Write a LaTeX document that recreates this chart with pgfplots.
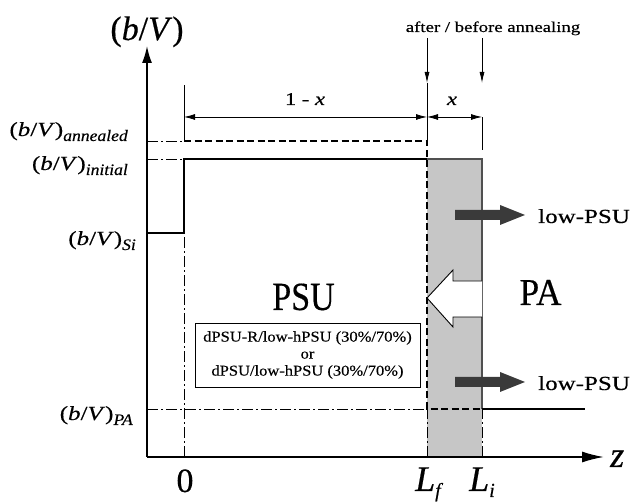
\documentclass[border=0pt]{standalone}
\usepackage{graphicx}
\usepackage{pgfplots}
\pgfplotsset{compat=1.18}
\usepackage{fontspec}
\setmainfont{Liberation Serif}[FakeBold=0.4]
\newfontfamily\wide{Liberation Serif}[FakeStretch=1.25, FakeBold=0.4]
\newfontfamily\wider{Liberation Serif}[FakeStretch=1.1, FakeBold=0.4]
\usetikzlibrary{arrows.meta}
\definecolor{shade}{HTML}{C6C6C6}
\definecolor{edge}{HTML}{505050}
\definecolor{flux}{HTML}{3A3A3A}
\newcommand{\fs}[1]{\fontsize{#1}{#1}\selectfont}
% (b/V) with an italic subscript
\newcommand{\bVsub}[1]{{\wide\fs{20}(\textit{b}/\textit{V})}\raisebox{-5pt}{\wider\fs{16}\textit{#1}}}
\begin{document}
\begin{tikzpicture}
\begin{axis}[
  width=631pt, height=502pt, scale only axis,
  xmin=0, xmax=631, ymin=0, ymax=502,
  hide axis, clip=false,
]
% shaded interface layer between L_f and L_i
\addplot[fill=shade, draw=none] coordinates {(427,45) (482,45) (482,343) (427,343)} -- cycle;
\addplot[edge, line width=2pt] coordinates {(427,343) (482,343) (482,93)};

% guide lines (dash-dot)
\pgfplotsset{guide/.style={black, line width=0.8pt, dash pattern=on 11pt off 3pt on 2pt off 3pt}}
\addplot[guide] coordinates {(147,361) (184,361)};
\addplot[guide] coordinates {(147,343) (184,343)};
\addplot[guide] coordinates {(147,93) (427,93)};
\addplot[guide] coordinates {(184,45) (184,269)};
\addplot[guide] coordinates {(427,45) (427,93)};
\addplot[guide] coordinates {(482,45) (482,93)};
\addplot[black, line width=0.8pt] coordinates {(184,361) (184,417)};
\addplot[black, line width=0.8pt] coordinates {(427,361) (427,419)};
\addplot[black, line width=0.8pt] coordinates {(482,352) (482,385)};

% initial profile (solid) and annealed profile (dashed)
\addplot[black, line width=2.6pt] coordinates {(147,269) (184,269) (184,343) (427,343)};
\addplot[black, line width=2.6pt] coordinates {(482,93) (585,93)};
\addplot[black, line width=2.6pt, dash pattern=on 7pt off 3.5pt] coordinates {(184,361) (427,361) (427,93) (482,93)};

% axes
\addplot[black, line width=1.6pt, -{Latex[length=17pt, width=10pt]}] coordinates {(147,45) (147,456)};
\addplot[black, line width=1.6pt, -{Latex[length=22pt, width=11pt]}] coordinates {(147,45) (604,45)};

% thickness markers
\addplot[black, line width=0.8pt, {Latex[length=11pt, width=6pt]}-{Latex[length=11pt, width=6pt]}] coordinates {(184,385) (427,385)};
\addplot[black, line width=0.8pt, {Latex[length=11pt, width=6pt]}-{Latex[length=11pt, width=6pt]}] coordinates {(427,385) (482,385)};
\addplot[black, line width=0.8pt, -{Latex[length=11pt, width=5pt]}] coordinates {(427,464) (427,419)};
\addplot[black, line width=0.8pt, -{Latex[length=11pt, width=5pt]}] coordinates {(482,464) (482,419)};

% low-PSU flux arrows
\addplot[fill=flux, draw=none] coordinates {(455,292) (500,292) (500,297) (525,287) (500,277) (500,282) (455,282)} -- cycle;
\addplot[fill=flux, draw=none] coordinates {(455,125) (500,125) (500,130) (525,120) (500,110) (500,115) (455,115)} -- cycle;

% PA flux arrow (hollow)
\addplot[fill=white, draw=black, line width=0.9pt] coordinates {(482,221) (453,221) (453,232) (427,204) (453,175) (453,185) (482,185)};

% labels
\node[anchor=base, inner sep=0pt] at (axis cs:147,462) {\fs{34}(\textit{b}/\textit{V})};
\node[anchor=base, inner sep=0pt] at (axis cs:493,470) {\wide\fs{15}after / before annealing};
\node[anchor=base, inner sep=0pt] at (axis cs:305,397) {\wide\fs{18}1 - \textit{x}};
\node[anchor=base, inner sep=0pt] at (axis cs:452,397) {\wide\fs{18}\textit{x}};
\node[anchor=base east, inner sep=0pt] at (axis cs:128,366) {\bVsub{annealed}};
\node[anchor=base east, inner sep=0pt] at (axis cs:128,332) {\bVsub{initial}};
\node[anchor=base east, inner sep=0pt] at (axis cs:136,257) {\bVsub{Si}};
\node[anchor=base east, inner sep=0pt] at (axis cs:133,82) {\bVsub{PA}};
\node[anchor=base, inner sep=0pt] at (axis cs:303.5,192) {\scalebox{0.85}[1]{\fs{40}PSU}};
\node[anchor=base, inner sep=0pt] at (axis cs:540.5,197) {\scalebox{0.93}[1]{\fs{38}PA}};
\node[draw=black, line width=0.8pt, minimum width=225pt, minimum height=64pt, align=center, inner sep=2pt,
      font=\wider\fontsize{15}{17}\selectfont] at (axis cs:307.5,147)
  {dPSU-R/low-hPSU (30\%/70\%)\\ or\\ dPSU/low-hPSU (30\%/70\%)};
\node[anchor=base west, inner sep=0pt] at (axis cs:538,279) {\wide\fs{20}low-PSU};
\node[anchor=base west, inner sep=0pt] at (axis cs:538,112) {\wide\fs{20}low-PSU};
\node[anchor=base, inner sep=0pt] at (axis cs:185,10) {\fs{34}0};
\node[anchor=base west, inner sep=0pt] at (axis cs:415,11) {\fs{36}\textit{L}\raisebox{-6pt}{\fs{20}\textit{f}}};
\node[anchor=base west, inner sep=0pt] at (axis cs:469,11) {\fs{36}\textit{L}\raisebox{-6pt}{\fs{20}\textit{i}}};
\node[anchor=base west, inner sep=0pt] at (axis cs:610,35) {\fs{36}\textit{z}};
\end{axis}
\pgfresetboundingbox
\path (current axis.south west) rectangle (current axis.north east);
\end{tikzpicture}
\end{document}
